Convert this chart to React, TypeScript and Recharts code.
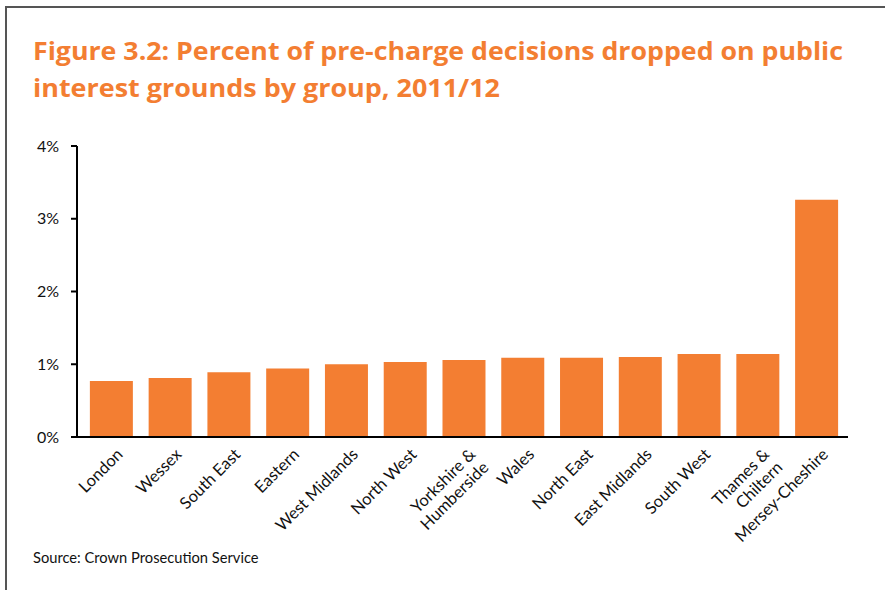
import React from 'react'
import { BarChart, Bar, XAxis, YAxis } from 'recharts'

const groups = [
  'London',
  'Wessex',
  'South East',
  'Eastern',
  'West Midlands',
  'North West',
  'Yorkshire &\nHumberside',
  'Wales',
  'North East',
  'East Midlands',
  'South West',
  'Thames &\nChiltern',
  'Mersey-Cheshire',
]

const droppedPct = [0.77, 0.81, 0.89, 0.94, 1.0, 1.03, 1.06, 1.09, 1.09, 1.1, 1.14, 1.14, 3.26]

const yTicks = [0, 1, 2, 3, 4]

const titleLines = [
  'Figure 3.2: Percent of pre-charge decisions dropped on public',
  'interest grounds by group, 2011/12',
]

const sourceNote = 'Source: Crown Prosecution Service'

const FONT = "Lato, 'Open Sans', sans-serif"
const TITLE_FONT = "'Open Sans', Lato, sans-serif"
const ORANGE = '#F37E32'

const chartData = groups.map((g, i) => ({ group: g, value: droppedPct[i] }))

// rotated category labels, top-right corner sits just below the bar centre
const GroupTick = ({ x, y, payload }: any) => {
  const lines = String(payload.value).split('\n')
  return (
    <g transform={`translate(${x + 4},${y + 10}) rotate(-45)`}>
      {lines.map((line: string, i: number) => (
        <text
          key={i}
          x={0}
          y={12 + i * 18.5}
          textAnchor="end"
          fontSize={16.5}
          fontFamily={FONT}
          fill="#111"
        >
          {line}
        </text>
      ))}
    </g>
  )
}

export default function App() {
  return (
    <div style={{ position: 'absolute', left: 0, top: 0, width: 885, height: 590, background: '#fff', overflow: 'hidden' }}>
      {/* frame */}
      <div
        style={{
          position: 'absolute',
          left: 5,
          top: 6,
          width: 900,
          height: 600,
          borderTop: '2px solid #555',
          borderLeft: '2px solid #555',
        }}
      />
      <svg width={885} height={590} style={{ position: 'absolute', left: 0, top: 0 }}>
        <text x={33} y={60} fontSize={25} fontWeight={700} fontFamily={TITLE_FONT} fill={ORANGE} textLength={810} lengthAdjust="spacingAndGlyphs">
          {titleLines[0]}
        </text>
        <text x={33} y={97} fontSize={25} fontWeight={700} fontFamily={TITLE_FONT} fill={ORANGE} textLength={467} lengthAdjust="spacingAndGlyphs">
          {titleLines[1]}
        </text>
        <text x={33} y={563} fontSize={14.7} fontFamily={FONT} fill="#111">
          {sourceNote}
        </text>
      </svg>
      <div style={{ position: 'absolute', left: 0, top: 0 }}>
        <BarChart
          width={885}
          height={590}
          data={chartData}
          margin={{ top: 146, right: 37, left: 0, bottom: 0 }}
          barCategoryGap="13.4%"
        >
          <YAxis
            domain={[0, 4]}
            ticks={yTicks}
            tickFormatter={(v) => `${v}%`}
            width={77}
            axisLine={{ stroke: '#000', strokeWidth: 2 }}
            tickLine={{ stroke: '#000', strokeWidth: 2 }}
            tickSize={6}
            tickMargin={12}
            tick={{ fontSize: 16, fontFamily: FONT, fill: '#111' }}
          />
          <XAxis
            dataKey="group"
            interval={0}
            height={153}
            padding={{ left: 5, right: 2 }}
            axisLine={{ stroke: '#000', strokeWidth: 2 }}
            tickLine={false}
            tickSize={0}
            tickMargin={0}
            tick={<GroupTick />}
          />
          <Bar dataKey="value" fill={ORANGE} isAnimationActive={false} />
        </BarChart>
      </div>
    </div>
  )
}
